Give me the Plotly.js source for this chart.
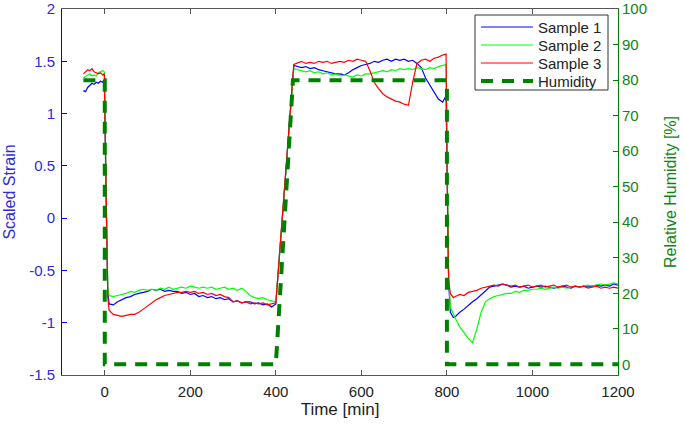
<!DOCTYPE html>
<html>
<head>
<meta charset="utf-8">
<script src="https://cdn.plot.ly/plotly-3.0.1.min.js"></script>
<style>html,body{margin:0;padding:0;background:#fff;}#chart{width:685px;height:424px;}</style>
</head>
<body>
<div id="chart"></div>
<script>
// Shared time axis for the three samples [min]
const time = [
  -50,-45,-40,-35,-30,-25,-20,-15,-10,-5,-1,
  3,7,
  10,20,30,40,50,60,70,80,90,100,110,120,130,140,150,160,170,180,190,200,
  210,220,230,240,250,260,270,280,290,300,310,320,330,340,350,360,370,380,390,400,
  442,450,460,470,480,490,500,510,520,530,540,550,560,570,580,590,600,610,620,630,
  640,650,660,670,680,690,700,710,720,730,740,750,760,770,780,790,798,
  801,804,
  808,815,820,830,840,850,860,870,880,890,900,910,920,930,940,950,960,970,980,990,
  1000,1010,1020,1030,1040,1050,1060,1070,1080,1090,1100,1110,1120,1130,1140,1150,
  1160,1170,1180,1190,1200
];

const sample1 = [
  1.22,1.21,1.25,1.27,1.29,1.28,1.30,1.29,1.31,1.30,1.33,
  0.20,-0.70,
  -0.82,-0.83,-0.80,-0.78,-0.76,-0.75,-0.73,-0.72,-0.71,-0.70,-0.68,-0.69,-0.68,-0.70,-0.69,-0.70,-0.70,-0.72,-0.71,-0.73,
  -0.72,-0.75,-0.74,-0.76,-0.75,-0.77,-0.76,-0.78,-0.77,-0.80,-0.79,-0.81,-0.80,-0.80,-0.82,-0.81,-0.83,-0.82,-0.85,-0.82,
  1.46,1.45,1.44,1.45,1.43,1.44,1.42,1.41,1.40,1.39,1.38,1.38,1.37,1.39,1.42,1.44,1.46,1.47,1.48,1.50,
  1.49,1.51,1.52,1.50,1.52,1.51,1.52,1.50,1.51,1.48,1.44,1.34,1.27,1.21,1.14,1.11,1.17,
  0.30,-0.60,
  -0.90,-0.95,-0.94,-0.90,-0.87,-0.83,-0.80,-0.77,-0.73,-0.69,-0.66,-0.65,-0.64,-0.63,-0.64,-0.66,-0.65,-0.66,-0.65,-0.67,
  -0.66,-0.65,-0.66,-0.65,-0.66,-0.67,-0.66,-0.65,-0.66,-0.67,-0.65,-0.66,-0.65,-0.66,-0.65,-0.64,
  -0.65,-0.64,-0.65,-0.63,-0.64
];

const sample2 = [
  1.34,1.36,1.37,1.38,1.36,1.37,1.36,1.39,1.40,1.41,1.40,
  0.30,-0.65,
  -0.74,-0.75,-0.74,-0.73,-0.72,-0.70,-0.71,-0.69,-0.68,-0.69,-0.68,-0.69,-0.67,-0.68,-0.66,-0.68,-0.67,-0.66,-0.67,-0.65,
  -0.66,-0.67,-0.66,-0.67,-0.66,-0.68,-0.67,-0.66,-0.68,-0.67,-0.69,-0.67,-0.70,-0.74,-0.76,-0.77,-0.76,-0.78,-0.79,-0.80,
  1.43,1.42,1.41,1.40,1.41,1.39,1.40,1.38,1.39,1.37,1.38,1.36,1.37,1.36,1.35,1.37,1.36,1.38,1.38,1.39,
  1.40,1.41,1.40,1.42,1.41,1.43,1.42,1.43,1.42,1.44,1.43,1.42,1.44,1.43,1.45,1.46,1.47,
  0.40,-0.55,
  -0.85,-0.92,-0.96,-1.04,-1.10,-1.15,-1.19,-1.06,-0.90,-0.80,-0.77,-0.75,-0.74,-0.73,-0.72,-0.72,-0.70,-0.71,-0.69,-0.69,
  -0.68,-0.68,-0.67,-0.68,-0.67,-0.66,-0.67,-0.66,-0.67,-0.66,-0.65,-0.66,-0.65,-0.64,-0.65,-0.64,
  -0.63,-0.64,-0.63,-0.62,-0.63
];

const sample3 = [
  1.38,1.40,1.42,1.41,1.43,1.40,1.39,1.38,1.39,1.37,1.38,
  0.20,-0.75,
  -0.88,-0.92,-0.93,-0.94,-0.93,-0.92,-0.92,-0.90,-0.87,-0.84,-0.81,-0.78,-0.76,-0.74,-0.73,-0.72,-0.71,-0.71,-0.70,-0.71,
  -0.70,-0.72,-0.71,-0.73,-0.72,-0.74,-0.73,-0.75,-0.76,-0.80,-0.79,-0.81,-0.80,-0.82,-0.81,-0.82,-0.81,-0.83,-0.82,-0.81,
  1.47,1.48,1.50,1.48,1.49,1.48,1.50,1.49,1.50,1.48,1.49,1.50,1.49,1.51,1.50,1.52,1.51,1.50,1.41,1.30,
  1.24,1.19,1.16,1.14,1.12,1.11,1.09,1.08,1.30,1.48,1.51,1.52,1.50,1.53,1.54,1.56,1.57,
  0.20,-0.60,
  -0.72,-0.76,-0.75,-0.73,-0.74,-0.71,-0.70,-0.69,-0.67,-0.66,-0.65,-0.64,-0.65,-0.63,-0.64,-0.65,-0.64,-0.66,-0.65,-0.64,
  -0.66,-0.65,-0.64,-0.66,-0.65,-0.64,-0.66,-0.65,-0.64,-0.66,-0.65,-0.66,-0.65,-0.67,-0.66,-0.65,
  -0.67,-0.66,-0.67,-0.66,-0.67
];

// Relative humidity set-point [%]
const humTime = [-50, 0, 0, 400, 440, 800, 800, 1200];
const humidity = [80, 80, 0, 0, 80, 80, 0, 0];

const seriesNames = ['Sample 1', 'Sample 2', 'Sample 3', 'Humidity'];
const xTicks = [0, 200, 400, 600, 800, 1000, 1200];
const yTicks = [-1.5, -1, -0.5, 0, 0.5, 1, 1.5, 2];
const yTickText = ['-1.5', '-1', '-0.5', '0', '0.5', '1', '1.5', '2'];
const y2Ticks = [0, 10, 20, 30, 40, 50, 60, 70, 80, 90, 100];

const FONT = 'Liberation Sans, Arial, sans-serif';
const BLUE = '#0000ff';
const BLUE_TXT = '#2b2be0';
const GREEN = 'rgb(0,128,0)';
const GREEN_TXT = 'rgb(20,130,20)';
const colors = ['#0000ff', '#00ff00', '#ff0000', GREEN];

const traces = [
  {x: time, y: sample1, name: seriesNames[0], type: 'scatter', mode: 'lines',
   line: {color: colors[0], width: 1.2}},
  {x: time, y: sample2, name: seriesNames[1], type: 'scatter', mode: 'lines',
   line: {color: colors[1], width: 1.2}},
  {x: time, y: sample3, name: seriesNames[2], type: 'scatter', mode: 'lines',
   line: {color: colors[2], width: 1.2}},
  {x: humTime, y: humidity, name: seriesNames[3], type: 'scatter', mode: 'lines', yaxis: 'y2',
   line: {color: colors[3], width: 4, dash: '12px,9px'}}
];

// Legend drawn as a MATLAB-style box (pixel placement -> paper coords)
const W = 685, H = 424, M = {l: 62, r: 67, t: 9, b: 49};
const pw = W - M.l - M.r, ph = H - M.t - M.b;
const px = v => (v - M.l) / pw;
const py = v => (H - M.b - v) / ph;
const shapes = [{type: 'rect', xref: 'paper', yref: 'paper',
  x0: px(475), x1: px(608), y0: py(90), y1: py(15),
  line: {color: '#333', width: 1}, fillcolor: '#fff', layer: 'above'}];
const annotations = [];
const rowY = [27, 45, 63, 81];
seriesNames.forEach((n, i) => {
  shapes.push({type: 'line', xref: 'paper', yref: 'paper',
    x0: px(481), x1: px(533), y0: py(rowY[i]), y1: py(rowY[i]),
    line: {color: colors[i], width: i === 3 ? 4 : 1.2, dash: i === 3 ? '12px,9px' : 'solid'},
    layer: 'above'});
  annotations.push({xref: 'paper', yref: 'paper', x: px(536), y: py(rowY[i]),
    xanchor: 'left', yanchor: 'middle', showarrow: false, text: n,
    font: {family: FONT, size: 15, color: '#222'}});
});

const layout = {
  width: W, height: H,
  margin: M,
  paper_bgcolor: '#fff', plot_bgcolor: '#fff',
  font: {family: FONT, size: 15, color: '#222'},
  showlegend: false,
  shapes: shapes,
  annotations: annotations,
  xaxis: {
    range: [-100, 1200], tickvals: xTicks, ticktext: xTicks.map(String),
    ticks: 'inside', ticklen: 5, tickcolor: '#555',
    showline: true, linecolor: '#555', linewidth: 1, mirror: 'ticks',
    showgrid: false, zeroline: false, ticklabeloverflow: 'allow', ticklabelstandoff: 3,
    tickfont: {family: FONT, size: 15, color: '#222'},
    title: {text: 'Time [min]', font: {family: FONT, size: 17, color: '#222'}, standoff: 4}
  },
  yaxis: {
    range: [-1.5, 2.0005], tickvals: yTicks, ticktext: yTickText,
    ticks: 'inside', ticklen: 5, tickcolor: BLUE,
    showline: true, linecolor: BLUE, linewidth: 1,
    showgrid: false, zeroline: false, ticklabeloverflow: 'allow', ticklabelstandoff: 3,
    tickfont: {family: FONT, size: 15, color: BLUE_TXT},
    title: {text: 'Scaled Strain', font: {family: FONT, size: 16, color: BLUE_TXT}, standoff: 9}
  },
  yaxis2: {
    overlaying: 'y', side: 'right',
    range: [-3, 100.02], tickvals: y2Ticks, ticktext: y2Ticks.map(String),
    ticks: 'inside', ticklen: 5, tickcolor: GREEN,
    showline: true, linecolor: GREEN, linewidth: 1,
    showgrid: false, zeroline: false, ticklabeloverflow: 'allow',
    tickfont: {family: FONT, size: 15, color: GREEN_TXT},
    title: {text: 'Relative Humidity [%]', font: {family: FONT, size: 16, color: GREEN_TXT}, standoff: 18}
  }
};

Plotly.newPlot('chart', traces, layout, {displayModeBar: false, staticPlot: true});
</script>
</body>
</html>
